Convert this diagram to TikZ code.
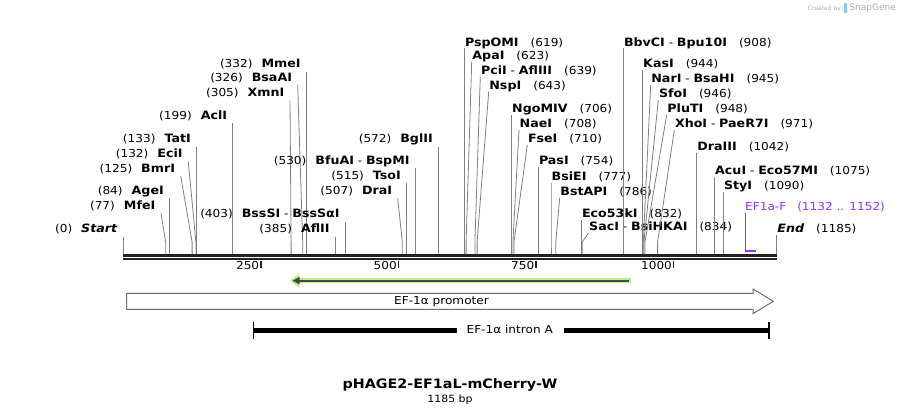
\documentclass[tikz,border=0pt]{standalone}
\usepackage{fontspec}
\setmainfont{DejaVu Sans}[FakeStretch=1.1]
\newfontfamily\logofont{DejaVu Sans}
\usetikzlibrary{arrows.meta}
\definecolor{seqc}{RGB}{34,34,34}
\definecolor{connc}{RGB}{128,128,128}
\definecolor{primerc}{RGB}{155,48,255}
\definecolor{glowc}{RGB}{185,240,130}
\definecolor{darkc}{RGB}{70,70,70}
\definecolor{boxc}{RGB}{110,110,110}
\definecolor{logoc}{RGB}{175,175,175}
\definecolor{logob}{RGB}{140,200,240}
\tikzset{
  lbl/.style={inner sep=0pt, font=\fontsize{11}{13}\selectfont, text=black},
  conn/.style={draw=connc, line width=0.8pt},
  tickmark/.style={draw=seqc, line width=1.5pt},
}
\newcommand\nm[1]{\textbf{\fontsize{11.5}{13}\selectfont #1}}
% left-side site: id, line start x, line start y, site x, number, name
\newcommand\Lsite[6]{%
  \coordinate (a#1) at (#2,#3);
  \coordinate (b#1) at (#4,242);
  \coordinate (s#1) at (#4,254);
  \node[lbl, anchor=mid east] (t#1) at ([shift={(-5.5,-6.5)}]a#1) {(#5)\hspace{9pt}#6};
  \draw[conn] (a#1) -- (b#1) -- (s#1);
}
% right-side site
\newcommand\Rsite[6]{%
  \coordinate (a#1) at (#2,#3);
  \coordinate (b#1) at (#4,242);
  \coordinate (s#1) at (#4,254);
  \node[lbl, anchor=mid west] (t#1) at ([shift={(0.5,-5)}]a#1) {#6\hspace{12pt}(#5)};
  \draw[conn] (a#1) -- (b#1) -- (s#1);
}
\begin{document}
\begin{tikzpicture}[x=1pt,y=-1pt]
\useasboundingbox (0,0) rectangle (900,415);
\fill[white] (0,0) rectangle (900,415);

% sequence line
\coordinate (q0) at (123,255.5);
\coordinate (q1) at (777.3,255.5);
\coordinate (r0) at (123,259.4);
\coordinate (r1) at (777.3,259.4);
\draw[seqc, line width=2.6pt] (q0) -- (q1);
\draw[seqc, line width=1.9pt] (r0) -- (r1);

% ticks
\foreach \p/\x in {250/260.9,500/398.5,750/536,1000/673.6}{
  \coordinate (k\p) at (\x,260.5);
  \draw[tickmark] (k\p) -- ++(0,7.5);
  \node[lbl, anchor=mid east] (n\p) at ([shift={(-1.5,6.5)}]k\p) {\p};
}

% left labels
\Lsite{st}{123.3}{236.5}{123.3}{0}{\textbf{\fontsize{11.5}{13}\selectfont\textit{Start}}}
\Lsite{mfe}{161}{213.3}{165.7}{77}{\nm{MfeI}}
\Lsite{age}{169.5}{198.3}{169.5}{84}{\nm{AgeI}}
\Lsite{bmr}{180.7}{176}{192.1}{125}{\nm{BmrI}}
\Lsite{eci}{188.3}{161.7}{195.9}{132}{\nm{EciI}}
\Lsite{tat}{196.5}{146.7}{196.5}{133}{\nm{TatI}}
\Lsite{acl}{232.8}{123.3}{232.8}{199}{\nm{AclI}}
\Lsite{xmn}{290}{100.7}{291.1}{305}{\nm{XmnI}}
\Lsite{bsaa}{297.7}{85}{302.7}{326}{\nm{BsaAI}}
\Lsite{mme}{306.3}{71.7}{306.3}{332}{\nm{MmeI}}
\Lsite{bsss}{345.3}{221.7}{345.3}{403}{\nm{BssSI} - \nm{BssSαI}}
\Lsite{afl}{335.3}{236.5}{335.3}{385}{\nm{AflII}}
\Lsite{dra}{397.7}{198.3}{402.3}{507}{\nm{DraI}}
\Lsite{tso}{406.5}{183.3}{406.5}{515}{\nm{TsoI}}
\Lsite{bfu}{415.3}{168.3}{415.3}{530}{\nm{BfuAI} - \nm{BspMI}}
\Lsite{bgl}{438.5}{146.7}{438.5}{572}{\nm{BglII}}

% right labels
\Rsite{psp}{464.3}{48.3}{464.3}{619}{\nm{PspOMI}}
\Rsite{apa}{471.7}{61.7}{466.1}{623}{\nm{ApaI}}
\Rsite{pci}{480.3}{76.7}{474.9}{639}{\nm{PciI} - \nm{AflIII}}
\Rsite{nsp}{488.7}{91.7}{477.1}{643}{\nm{NspI}}
\Rsite{ngo}{511.5}{115}{511.5}{706}{\nm{NgoMIV}}
\Rsite{nae}{519}{130}{512.9}{708}{\nm{NaeI}}
\Rsite{fse}{527.3}{145}{514}{710}{\nm{FseI}}
\Rsite{pas}{538.3}{166.7}{538.3}{754}{\nm{PasI}}
\Rsite{bsie}{551}{182.7}{551}{777}{\nm{BsiEI}}
\Rsite{bsta}{559.7}{197.7}{555.8}{786}{\nm{BstAPI}}
\Rsite{eco}{581.4}{220}{581.4}{832}{\nm{Eco53kI}}
\Rsite{sac}{588.5}{233}{582.3}{834}{\nm{SacI} - \nm{BsiHKAI}}
\Rsite{bbv}{623.3}{48.3}{623.3}{908}{\nm{BbvCI} - \nm{Bpu10I}}
\Rsite{kas}{642.5}{70}{642.5}{944}{\nm{KasI}}
\Rsite{nar}{650.7}{85}{643.3}{945}{\nm{NarI} - \nm{BsaHI}}
\Rsite{sfo}{658.3}{100}{643.9}{946}{\nm{SfoI}}
\Rsite{plu}{666.7}{115}{645}{948}{\nm{PluTI}}
\Rsite{xho}{674.3}{130}{657.6}{971}{\nm{XhoI} - \nm{PaeR7I}}
\Rsite{dra3}{696.7}{152.7}{696.7}{1042}{\nm{DraIII}}
\Rsite{acu}{714.5}{176.7}{714.5}{1075}{\nm{AcuI} - \nm{Eco57MI}}
\Rsite{sty}{723.3}{191.7}{723.3}{1090}{\nm{StyI}}
\Rsite{end}{776.7}{235}{776.7}{1185}{\textbf{\fontsize{11.5}{13}\selectfont\textit{End}}}

% primer
\coordinate (pa) at (745.5,213.3);
\coordinate (pb) at (745.5,250.7);
\coordinate (pc) at (756,250.7);
\node[lbl, anchor=mid west, text=primerc] (ptxt) at ([shift={(-0.5,-6)}]pa) {EF1a-F\hspace{11pt}(1132 .. 1152)};
\draw[primerc, line width=1.6pt] (pa) -- (pb) -- (pc);

% green feature arrow (reverse)
\coordinate (g1) at (630.7,280.7);
\coordinate (g0) at (290,280.7);
\draw[glowc, line width=5.5pt, -{Triangle[length=9pt,width=13pt]}] (g1) -- (g0);
\draw[darkc, line width=2pt, -{Triangle[length=7pt,width=7pt]}] ([xshift=-1.5]g1) -- ([xshift=2.5]g0);

% promoter arrow
\draw[boxc, line width=1pt, fill=white] (126.7,293.3) -- (753,293.3) -- (753,289) -- (773.3,301.3) -- (753,313.6) -- (753,309.3) -- (126.7,309.3) -- cycle;
\node[lbl, anchor=mid] (prom) at (441.5,301.3) {EF-1α promoter};

% intron A
\coordinate (i0) at (253.6,330.3);
\coordinate (i1) at (769.2,330.3);
\node[lbl, anchor=mid] (intr) at (509.7,331) {EF-1α intron A};
\draw[black, line width=5pt] (i0) -- (456.7,330.3);
\draw[black, line width=5pt] (564.3,330.3) -- (i1);
\draw[black, line width=1.5pt] ([yshift=-8.5]i0) -- ([yshift=8.5]i0);
\draw[black, line width=1.5pt] ([yshift=-8.5]i1) -- ([yshift=8.5]i1);

% title
\node[inner sep=0pt, font=\bfseries\fontsize{13}{15}\selectfont] (title) at (450,385) {pHAGE2-EF1aL-mCherry-W};
\node[inner sep=0pt, font=\fontsize{10}{12}\selectfont] (len) at (450,399.5) {1185 bp};

% logo
\node[inner sep=0pt, anchor=mid east, text=logoc, font=\logofont\fontsize{9}{11}\selectfont] (sg) at (896,7.5) {SnapGene};
\fill[logob] ([xshift=-5]sg.west |- 0,2.5) rectangle ([xshift=-2]sg.west |- 0,12.5);
\node[inner sep=0pt, anchor=mid east, text=logoc, font=\logofont\fontsize{6}{8}\selectfont] (cb) at ([xshift=-8]sg.west) {Created by};
\end{tikzpicture}
\end{document}
